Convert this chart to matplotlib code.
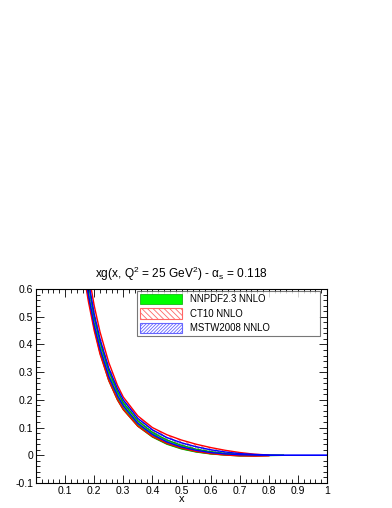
import numpy as np
import matplotlib
matplotlib.use("Agg")
import matplotlib.pyplot as plt
from matplotlib.patches import Patch
from matplotlib.ticker import MultipleLocator

plt.rcParams["font.family"] = ["Liberation Sans", "DejaVu Sans"]
plt.rcParams["mathtext.fontset"] = "custom"
plt.rcParams["mathtext.rm"] = "Liberation Sans"
plt.rcParams["mathtext.it"] = "Liberation Sans:italic"
plt.rcParams["mathtext.default"] = "regular"
plt.rcParams["hatch.linewidth"] = 0.6

# NNPDF2.3 NNLO band
x_nn = [0.16, 0.18, 0.20, 0.22, 0.25, 0.28, 0.30, 0.35, 0.40, 0.45, 0.50,
        0.55, 0.60, 0.65, 0.70, 0.75, 0.80, 0.85]
nn_lo = [0.70, 0.57, 0.46, 0.37, 0.27, 0.20, 0.165, 0.105, 0.066, 0.040,
         0.023, 0.012, 0.005, 0.001, -0.002, -0.002, -0.001, 0.0]
nn_hi = [0.76, 0.62, 0.50, 0.41, 0.305, 0.23, 0.19, 0.125, 0.083, 0.055,
         0.036, 0.022, 0.013, 0.007, 0.003, 0.001, 0.0005, 0.0]

# CT10 NNLO band
x_ct = [0.16, 0.18, 0.20, 0.22, 0.25, 0.28, 0.30, 0.35, 0.40, 0.45, 0.50,
        0.55, 0.60, 0.65, 0.70, 0.75, 0.80]
ct_lo = [0.68, 0.555, 0.45, 0.365, 0.27, 0.20, 0.165, 0.105, 0.068, 0.043,
         0.026, 0.014, 0.006, 0.001, -0.002, -0.003, -0.002]
ct_hi = [0.80, 0.66, 0.54, 0.445, 0.335, 0.252, 0.21, 0.142, 0.100, 0.074,
         0.055, 0.040, 0.028, 0.018, 0.010, 0.004, 0.001]

# MSTW2008 NNLO band
x_mstw = [0.16, 0.18, 0.20, 0.22, 0.25, 0.28, 0.30, 0.35, 0.40, 0.45, 0.50,
          0.55, 0.60, 0.65, 0.70, 0.75, 0.80, 0.85, 0.90, 1.0]
mstw_lo = [0.71, 0.58, 0.47, 0.385, 0.285, 0.215, 0.178, 0.115, 0.075, 0.048,
           0.030, 0.018, 0.010, 0.005, 0.002, 0.001, 0.0, 0.0, 0.0, 0.0]
mstw_hi = [0.77, 0.63, 0.51, 0.42, 0.315, 0.24, 0.20, 0.133, 0.092, 0.064,
           0.045, 0.031, 0.020, 0.012, 0.006, 0.003, 0.001, 0.0, 0.0, 0.0]

labels = ["NNPDF2.3 NNLO", "CT10 NNLO", "MSTW2008 NNLO"]

fig = plt.figure(figsize=(3.92, 5.08), dpi=100)
ax = fig.add_axes([36/392, 25/508, 291/392, 194/508])

# NNPDF: solid green
ax.fill_between(x_nn, nn_lo, nn_hi, color="#00ff00", lw=0)
ax.plot(x_nn, nn_lo, color="#00aa00", lw=1.0)
ax.plot(x_nn, nn_hi, color="#00aa00", lw=1.0)

# CT10: red hatch
ax.fill_between(x_ct, ct_lo, ct_hi, facecolor="none", edgecolor="#ff6666",
                hatch="\\\\\\\\\\\\", lw=0)
ax.plot(x_ct, ct_lo, color="red", lw=1.0)
ax.plot(x_ct, ct_hi, color="red", lw=1.0)

# MSTW: blue hatch
ax.fill_between(x_mstw, mstw_lo, mstw_hi, facecolor="none", edgecolor="#6666ff",
                hatch="//////////", lw=0)
ax.plot(x_mstw, mstw_lo, color="blue", lw=1.0)
ax.plot(x_mstw, mstw_hi, color="blue", lw=1.0)

ax.set_xlim(0, 1)
ax.set_ylim(-0.1, 0.6)
ax.xaxis.set_minor_locator(MultipleLocator(0.02))
ax.yaxis.set_minor_locator(MultipleLocator(0.02))
ax.set_xticks(np.arange(0.1, 1.01, 0.1))
ax.set_xticklabels(["0.1", "0.2", "0.3", "0.4", "0.5", "0.6", "0.7", "0.8", "0.9", "1"])
ax.set_yticks(np.arange(-0.1, 0.61, 0.1))
ax.set_yticklabels(["-0.1", "0", "0.1", "0.2", "0.3", "0.4", "0.5", "0.6"])
ax.tick_params(which="both", direction="in", top=True, right=True,
               labelsize=7.5, width=0.6, pad=2)
ax.tick_params(which="major", length=6)
ax.tick_params(which="minor", length=3)
for s in ax.spines.values():
    s.set_linewidth(0.8)

ax.set_xlabel("x", fontsize=8, labelpad=-1)
ax.set_title(r"xg(x, Q$^2$ = 25 GeV$^2$) - $\alpha_s$ = 0.118", fontsize=8.6, pad=8)

handles = [
    Patch(facecolor="#00ff00", edgecolor="#00aa00", lw=0.5),
    Patch(facecolor="white", edgecolor="#ff6666", hatch="\\\\\\\\\\\\", lw=0.8),
    Patch(facecolor="white", edgecolor="#6666ff", hatch="//////////", lw=0.8),
]
leg = ax.legend(handles, labels, loc="upper left",
                bbox_to_anchor=(0.347, 0.763, 0.629, 0.227), mode="expand",
                fontsize=6.9, frameon=True, fancybox=False, handlelength=4.4,
                handleheight=1.3, labelspacing=0.42, borderpad=0.3,
                handletextpad=0.8, borderaxespad=0)
leg.get_frame().set_edgecolor("#555555")
leg.get_frame().set_linewidth(0.8)

fig.savefig("out.png", dpi=100)
